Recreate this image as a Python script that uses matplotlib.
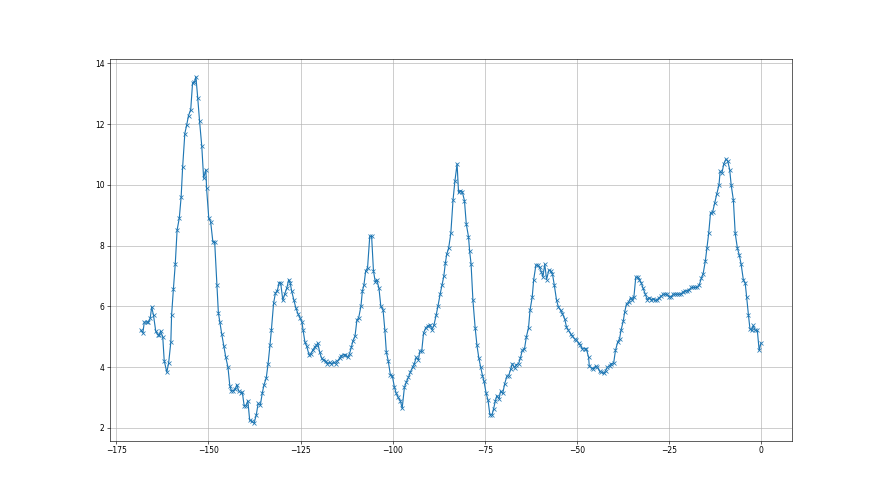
import matplotlib
matplotlib.use("Agg")
import matplotlib.pyplot as plt

# values, left to right
x_vals = [
    -168.3, -167.8, -167.4, -166.8, -166.3, -165.8, -165.4, -164.9, -164.3, -163.8,
    -163.4, -163.0, -162.4, -162.0, -161.3, -160.8, -160.2, -160.0, -159.5, -159.0,
    -158.5, -157.9, -157.4, -157.0, -156.4, -155.9, -155.4, -154.8, -154.3, -153.8,
    -153.4, -152.9, -152.4, -151.8, -151.3, -150.7, -150.5, -149.9, -149.4, -148.8,
    -148.3, -147.7, -147.3, -146.9, -146.4, -145.8, -145.3, -144.7, -144.2, -143.8,
    -143.2, -142.7, -142.3, -141.8, -141.2,
    -140.8, -140.3, -139.8, -139.3, -138.8, -138.2, -137.6, -137.0, -136.5, -135.9,
    -135.4, -134.9, -134.3, -133.8, -133.3, -132.9, -132.3, -131.8, -131.3, -130.8,
    -130.4, -129.8, -129.3, -128.7, -128.2, -127.8, -127.4, -126.8, -126.3, -125.7,
    -125.2, -124.6, -124.3, -123.8, -123.3, -122.7, -122.2, -121.7, -121.2, -120.7,
    -120.3, -119.8, -119.3, -118.8, -118.2, -117.7, -117.1, -116.6, -116.0, -115.5,
    -115.0, -114.4, -113.9, -113.3, -112.8, -112.2,
    -111.7, -111.2, -110.8, -110.2, -109.7, -109.2, -108.6, -108.2, -107.8, -107.3,
    -106.8, -106.2, -105.7, -105.2, -104.7, -104.3, -103.7, -103.2, -102.6, -102.1,
    -101.7, -101.2, -100.6, -100.1, -99.5, -99.0, -98.5, -97.9, -97.4, -96.8,
    -96.3, -95.7, -95.2, -94.6, -94.1, -93.6, -93.0, -92.6, -92.1, -91.6,
    -91.0, -90.5, -89.9, -89.3, -88.8, -88.2, -87.7, -87.1, -86.6, -86.1,
    -85.7, -85.3, -84.8,
    -84.2, -83.6, -83.1, -82.5, -82.1, -81.6, -81.1, -80.5, -80.0, -79.4,
    -79.1, -78.7, -78.2, -77.6, -77.1, -76.6, -76.1, -75.6, -75.2, -74.6,
    -74.1, -73.6, -73.0, -72.6, -72.1, -71.7, -71.1, -70.7, -70.1, -69.6,
    -69.0, -68.5, -67.9, -67.5, -66.9, -66.4, -65.8,
    -65.3, -64.8, -64.2, -63.7, -63.1, -62.7, -62.1, -61.7, -61.1, -60.6,
    -60.1, -59.6, -59.2, -58.7, -58.2, -57.6, -57.1, -56.6, -56.1, -55.5,
    -55.0, -54.4, -53.9, -53.3, -52.8, -52.3, -51.7, -51.2, -50.6, -50.1,
    -49.5, -49.0, -48.5, -47.9, -47.4, -46.8, -46.6, -46.0, -45.5, -44.9,
    -44.4, -43.8, -43.3, -42.7, -42.2, -41.7, -41.1, -40.6, -40.0, -39.5,
    -38.9, -38.4,
    -38.0, -37.4, -37.0, -36.5, -35.9, -35.4, -34.9, -34.5, -34.0, -33.5,
    -33.0, -32.5, -32.0, -31.4, -30.9, -30.4, -29.8, -29.3, -28.7, -28.2,
    -27.6, -27.1, -26.5, -26.0, -25.5, -24.9, -24.4, -23.8, -23.3, -22.7,
    -22.2, -21.7, -21.1, -20.6, -20.0, -19.5, -18.9, -18.4, -17.8, -17.3,
    -16.8, -16.2, -15.7, -15.1, -14.7, -14.2, -13.7, -13.1, -12.6, -12.0,
    -11.4, -11.1, -10.6, -10.1, -9.5, -9.0, -8.5, -8.1, -7.5, -7.0,
    -6.4, -5.9, -5.4, -4.8, -4.3, -3.9, -3.4, -3.0, -2.5, -2.1,
    -1.6, -1.0, -0.5, 0.0,
]
y_vals = [
    5.21, 5.12, 5.48, 5.48, 5.48, 5.61, 5.98, 5.70, 5.18, 5.07,
    5.04, 5.18, 5.00, 4.21, 3.83, 4.13, 4.82, 5.70, 6.58, 7.39,
    8.51, 8.91, 9.61, 10.58, 11.69, 11.97, 12.28, 12.48, 13.36, 13.38,
    13.56, 12.86, 12.09, 11.27, 10.22, 10.50, 9.89, 8.90, 8.79, 8.13,
    8.12, 6.69, 5.79, 5.48, 5.10, 4.69, 4.33, 4.00, 3.39, 3.22,
    3.22, 3.28, 3.42, 3.22, 3.15,
    3.17, 2.73, 2.73, 2.89, 2.25, 2.21, 2.15, 2.43, 2.80, 2.75,
    3.13, 3.42, 3.64, 4.11, 4.71, 5.23, 6.11, 6.44, 6.51, 6.78,
    6.78, 6.20, 6.40, 6.61, 6.88, 6.77, 6.50, 6.20, 5.96, 5.76,
    5.63, 5.48, 5.21, 4.82, 4.68, 4.41, 4.44, 4.55, 4.65, 4.71,
    4.79, 4.49, 4.30, 4.24, 4.19, 4.11, 4.16, 4.11, 4.16, 4.11,
    4.19, 4.29, 4.38, 4.41, 4.41, 4.32,
    4.44, 4.65, 4.85, 5.02, 5.54, 5.63, 6.00, 6.51, 6.69, 7.17,
    7.27, 8.31, 8.31, 7.17, 6.80, 6.88, 6.59, 6.00, 5.89, 5.21,
    4.49, 4.21, 3.74, 3.72, 3.33, 3.13, 3.00, 2.89, 2.64, 3.33,
    3.50, 3.66, 3.83, 3.99, 4.11, 4.32, 4.24, 4.52, 4.52, 5.12,
    5.30, 5.34, 5.40, 5.23, 5.37, 5.70, 6.00, 6.40, 6.69, 6.99,
    7.41, 7.72, 7.91,
    8.40, 9.50, 10.11, 10.69, 9.75, 9.81, 9.78, 9.48, 8.71, 8.29,
    7.83, 7.39, 6.20, 5.30, 4.71, 4.30, 4.00, 3.72, 3.53, 3.13,
    2.91, 2.43, 2.43, 2.62, 2.89, 3.06, 2.95, 3.20, 3.13, 3.44,
    3.69, 3.72, 3.94, 4.11, 3.97, 4.08, 4.11,
    4.30, 4.55, 4.60, 4.99, 5.30, 5.87, 6.31, 6.88, 7.36, 7.36,
    7.28, 7.13, 6.97, 7.39, 6.88, 7.19, 7.17, 7.06, 6.69, 6.20,
    5.98, 5.87, 5.76, 5.59, 5.32, 5.21, 5.10, 5.01, 4.93, 4.88,
    4.79, 4.71, 4.60, 4.60, 4.60, 4.32, 4.02, 3.97, 3.94, 4.02,
    3.99, 3.86, 3.83, 3.79, 3.88, 3.99, 4.05, 4.11, 4.13, 4.55,
    4.82, 4.93,
    5.21, 5.51, 5.81, 6.09, 6.14, 6.29, 6.22, 6.31, 6.95, 6.97,
    6.88, 6.77, 6.59, 6.40, 6.22, 6.29, 6.22, 6.25, 6.20, 6.20,
    6.29, 6.33, 6.40, 6.40, 6.40, 6.31, 6.31, 6.40, 6.40, 6.40,
    6.40, 6.40, 6.47, 6.51, 6.51, 6.55, 6.62, 6.62, 6.62, 6.62,
    6.69, 6.92, 7.08, 7.50, 7.91, 8.40, 9.08, 9.12, 9.39, 9.70,
    10.00, 10.44, 10.39, 10.69, 10.85, 10.77, 10.50, 10.00, 9.50, 8.40,
    7.91, 7.69, 7.39, 6.88, 6.77, 6.31, 5.70, 5.26, 5.21, 5.37,
    5.21, 5.21, 4.55, 4.79,
]

fig = plt.figure(figsize=(16, 9), dpi=55)
plt.plot(x_vals, y_vals, marker='x')
plt.grid()
plt.savefig('out.png', dpi=55)
